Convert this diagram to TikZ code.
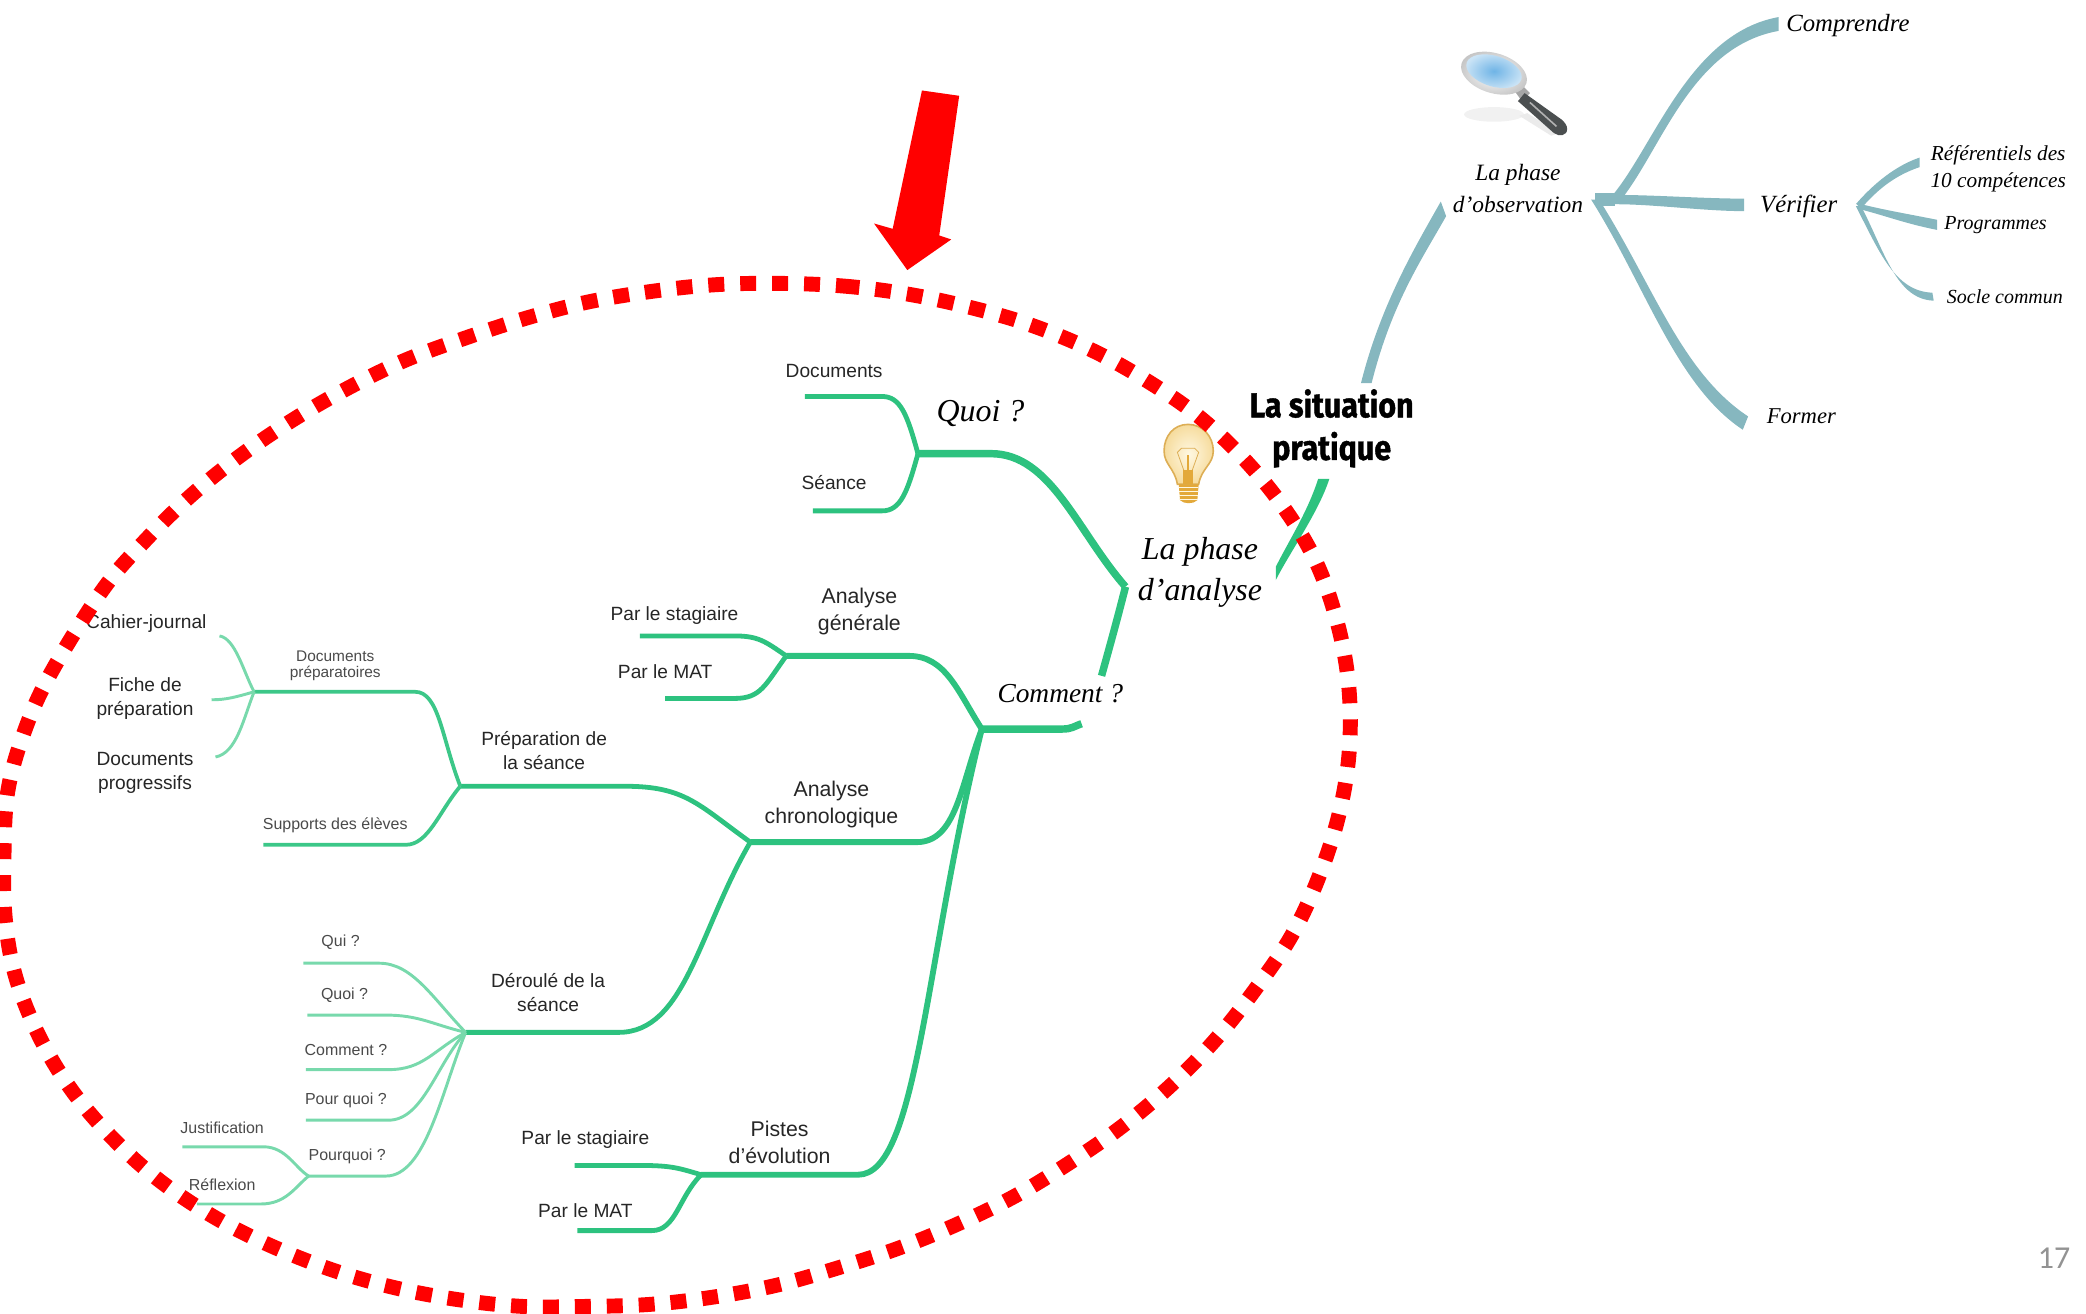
\documentclass[tikz,border=0pt]{standalone}
\usepackage{fontspec}
\setmainfont{Liberation Sans}
\newfontfamily\cursive{Liberation Serif}
\newfontfamily\handbold[FakeStretch=0.88,FakeBold=1.2]{Fira Sans}
\newfontfamily\pagenum{Carlito}
\usetikzlibrary{calc}
\definecolor{teal1}{HTML}{86B7BF}
\definecolor{green1}{HTML}{2DC27F}
\definecolor{green2}{HTML}{78D9AC}
\definecolor{redd}{HTML}{FF0000}
\definecolor{txt}{HTML}{262626}
\definecolor{txtg}{HTML}{4A4A4A}
\definecolor{bulbin}{HTML}{FFF8E2}
\definecolor{bulbout}{HTML}{F6DC9E}
\definecolor{bulbrim}{HTML}{DDAE55}
\definecolor{bulbgold}{HTML}{E3A93A}
\definecolor{lensin}{HTML}{6FB4E6}
\definecolor{lensout}{HTML}{CBE4F6}
\definecolor{handle}{HTML}{4B4F50}
\newcommand{\taperb}[7]{\fill[#1] ($(#2)+(#6)$) .. controls ($(#2)+(#3)+(#6)$) and ($(#5)+(#4)+(#7)$) .. ($(#5)+(#7)$) -- ($(#5)-(#7)$) .. controls ($(#5)+(#4)-(#7)$) and ($(#2)+(#3)-(#6)$) .. ($(#2)-(#6)$) -- cycle;}
\tikzset{
  mainb/.style={draw=green1,line width=2.8pt,line join=round},
  subb/.style={draw=green1,line width=1.8pt,line join=round},
  thinb/.style={draw=green2,line width=1.1pt,line join=round},
  thinm/.style={draw=green1!80!green2,line width=1.4pt,line join=round},
  lab/.style={font=\fontsize{7.2}{9}\selectfont,text=txt,align=center,inner sep=0pt,yshift=-0.4pt},
  labbig/.style={font=\fontsize{8}{10}\selectfont,text=txt,align=center,inner sep=0pt,yshift=-0.4pt},
  labgray/.style={font=\fontsize{6}{6}\selectfont,text=txtg,align=center,inner sep=0pt,yshift=-0.2pt},
  curA/.style={font=\cursive\itshape\fontsize{9.3}{10.5}\selectfont,text=black,align=center,inner sep=0pt},
  curB/.style={font=\cursive\itshape\fontsize{8.8}{12}\selectfont,text=black,align=center,inner sep=0pt},
  curC/.style={font=\cursive\itshape\fontsize{7.5}{10}\selectfont,text=black,align=center,inner sep=0pt},
  curD/.style={font=\cursive\itshape\fontsize{12}{15.5}\selectfont,text=black,align=center,inner sep=0pt},
  curE/.style={font=\cursive\itshape\fontsize{10.3}{12}\selectfont,text=black,align=center,inner sep=0pt},
}
\begin{document}
\begin{tikzpicture}[x=0.5pt,y=-0.5pt]
\useasboundingbox (0,0) rectangle (1568,987);
% ---------- coordinates
\coordinate (rootT) at (1027,288);
\coordinate (obsL) at (1085,157);
\coordinate (obsF) at (1199,150);
\coordinate (obsG) at (1214,150);
\coordinate (compE) at (1337,18);
\coordinate (verE) at (1311,154);
\coordinate (forE) at (1312,318);
\coordinate (verF) at (1397,155);
\coordinate (refE) at (1443,122);
\coordinate (proE) at (1456,169);
\coordinate (socE) at (1453,223);
\coordinate (rootB) at (995,360);
\coordinate (anaR) at (959,431);
\coordinate (anaF) at (846,441);
\coordinate (quoiF) at (690,341);
\coordinate (docE) at (605,298);
\coordinate (seaE) at (611,384);
\coordinate (comT) at (828,508);
\coordinate (comF) at (738,548);
\coordinate (comE) at (813,544);
\coordinate (genF) at (591,493);
\coordinate (gen1) at (481,478);
\coordinate (gen2) at (500,525);
\coordinate (chrF) at (564,633);
\coordinate (pisF) at (527,883);
\coordinate (pis1) at (432,876);
\coordinate (pis2) at (434,925);
\coordinate (prepF) at (346,591);
\coordinate (derF) at (350,776);
\coordinate (dprepF) at (191,520);
\coordinate (supE) at (198,635);
\coordinate (cahE) at (165,478);
\coordinate (ficE) at (159,526);
\coordinate (dpgE) at (162,569);
\coordinate (quiE) at (228,724);
\coordinate (quoE) at (231,763);
\coordinate (cmtE) at (230,804);
\coordinate (pquE) at (230,842);
\coordinate (pouF) at (232,884);
\coordinate (jusE) at (137,862);
\coordinate (refxE) at (148,905);
% ---------- teal branches
\taperb{teal1}{rootT}{15,-60}{-18,32}{obsL}{4,0}{2,5.5}
\fill[teal1] ($(obsF)+(0,-5)$) rectangle ($(obsG)+(0,5)$);
\taperb{teal1}{obsG}{32,-38}{-67,12}{compE}{2.5,2.5}{0,5.2}
\taperb{teal1}{obsG}{30,0}{-30,0}{verE}{0,3.5}{0,4.7}
\taperb{teal1}{obsF}{41,65}{-50,-33}{forE}{3,0}{2,-5}
\taperb{teal1}{verF}{13,-15}{-18,6}{refE}{1.8,1.8}{0,3.6}
\taperb{teal1}{verF}{20,5}{-25,-5}{proE}{0,2}{0,3.8}
\taperb{teal1}{verF}{18,35}{-28,-1}{socE}{2,0}{0.5,3}
% ---------- green branches, right part
\taperb{green1}{rootB}{-8,25}{10,-20}{anaR}{4.2,0}{0,5}
\draw[mainb] (quoiF) -- ++(55,0) .. controls +(45,0) and (810,400) .. (anaF);
\draw[subb] (quoiF) .. controls (682,312) and (677,298) .. (663,298) -- (docE);
\draw[subb] (quoiF) .. controls (682,370) and (677,384) .. (663,384) -- (seaE);
\draw[mainb] (anaF) .. controls (840,465) and (833,490) .. (comT);
\draw[mainb] (comF) -- ++(60,0) .. controls +(8,0) and +(-6,2) .. (comE);
\draw[subb,line width=2.2pt] (genF) -- ++(92,0) .. controls +(28,0) and (720,520) .. (comF);
\draw[subb] (genF) .. controls (575,482) and (570,478) .. (552,478) -- (gen1);
\draw[subb] (genF) .. controls (575,515) and (572,525) .. (552,525) -- (gen2);
\draw[subb,line width=2.2pt] (chrF) -- ++(125,0) .. controls +(30,0) and (722,590) .. (comF);
\draw[subb,line width=2.2pt] (pisF) -- ++(118,0) .. controls +(45,0) and (695,720) .. (comF);
\draw[subb] (prepF) -- ++(124,0) .. controls +(45,0) and (525,605) .. (chrF);
\draw[subb] (derF) -- ++(115,0) .. controls +(50,0) and (525,700) .. (chrF);
\draw[subb] (pisF) .. controls (510,878) and (505,876) .. (480,876) -- (pis1);
\draw[subb] (pisF) .. controls (510,900) and (508,925) .. (490,925) -- (pis2);
% ---------- thin branches
\draw[thinm] (prepF) .. controls (332,555) and (330,520) .. (312,520) -- (dprepF);
\draw[thinm] (prepF) .. controls (330,610) and (322,635) .. (305,635) -- (supE);
\draw[thinb] (dprepF) .. controls (183,505) and (177,480) .. (cahE);
\draw[thinb] (dprepF) .. controls (177,524) and (170,526) .. (ficE);
\draw[thinb] (dprepF) .. controls (183,540) and (178,566) .. (dpgE);
\draw[thinb] (derF) .. controls (325,750) and (310,724) .. (285,724) -- (quiE);
\draw[thinb] (derF) .. controls (325,770) and (315,763) .. (290,763) -- (quoE);
\draw[thinb] (derF) .. controls (325,790) and (318,804) .. (292,804) -- (cmtE);
\draw[thinb] (derF) .. controls (328,800) and (318,842) .. (292,842) -- (pquE);
\draw[thinb] (derF) .. controls (332,820) and (320,884) .. (290,884) -- (pouF);
\draw[thinb] (pouF) .. controls (222,878) and (215,862) .. (198,862) -- (jusE);
\draw[thinb] (pouF) .. controls (222,892) and (215,905) .. (196,905) -- (refxE);
% ---------- labels
\node[curA] (tComp) at (1389,19) {Comprendre};
\node[curB] (tObs) at (1141,142) {La phase\\d’observation};
\node[curA] (tVer) at (1352,155) {Vérifier};
\node[curC,font=\cursive\itshape\fontsize{8}{10}\selectfont] (tRef) at (1502,127) {Référentiels des\\10 compétences};
\node[curC] (tPro) at (1500,169) {Programmes};
\node[curC] (tSoc) at (1507,223) {Socle commun};
\node[curC,font=\cursive\itshape\fontsize{8.5}{10}\selectfont] (tFor) at (1354,313) {Former};
\node[font=\handbold\bfseries\fontsize{13}{16}\selectfont,align=center,inner sep=0pt] (tSit) at (1001,322) {La situation\\pratique};
\node[curD] (tAna) at (902,430) {La phase\\d’analyse};
\node[curD] (tQuoi) at (737,311) {Quoi ?};
\node[curE] (tCom) at (797,521) {Comment ?};
\node[lab] (tDoc) at (627,278) {Documents};
\node[lab] (tSea) at (627,362) {Séance};
\node[labbig] (tGen) at (646,459) {Analyse\\générale};
\node[lab] (tSt1) at (507,462) {Par le stagiaire};
\node[lab] (tMa1) at (500,504) {Par le MAT};
\node[lab] (tPre) at (409,563) {Préparation de\\la séance};
\node[labbig] (tChr) at (625,604) {Analyse\\chronologique};
\node[lab] (tCah) at (110,468) {Cahier-journal};
\node[lab] (tFic) at (109,524) {Fiche de\\préparation};
\node[lab] (tPrg) at (109,580) {Documents\\progressifs};
\node[labgray,font=\fontsize{5.8}{6}\selectfont] (tDpr) at (252,500) {Documents\\préparatoires};
\node[labgray] (tSup) at (252,620) {Supports des élèves};
\node[labgray] (tQui) at (256,708) {Qui ?};
\node[labgray] (tQuo) at (259,748) {Quoi ?};
\node[labgray] (tCmt) at (260,789) {Comment ?};
\node[labgray] (tPqu) at (260,827) {Pour quoi ?};
\node[labgray] (tPou) at (261,869) {Pourquoi ?};
\node[labgray] (tJus) at (167,847) {Justification};
\node[labgray] (tRfx) at (167,890) {Réflexion};
\node[lab] (tDer) at (412,745) {Déroulé de la\\séance};
\node[lab] (tSt2) at (440,856) {Par le stagiaire};
\node[lab] (tMa2) at (440,909) {Par le MAT};
\node[labbig] (tPis) at (586,858) {Pistes\\d’évolution};
\node[font=\pagenum\fontsize{12}{12}\selectfont,text=gray!85,inner sep=0pt] (tNum) at (1544,946) {17};
% ---------- magnifying glass
\fill[gray!11] (1123,86) ellipse [x radius=22.5,y radius=5.5];
\fill[gray!16] (1142,87) -- (1148,85) -- (1172,100) -- (1166,102) -- cycle;
\fill[gray!70] (1136,65) -- (1141,61) -- (1150,70) -- (1144,76) -- cycle;
\fill[handle] (1146,70) -- (1141,76) -- (1168,100) .. controls (1172,103) and (1178,102) .. (1178,97) .. controls (1178,94) and (1176,92) .. (1174,90) -- cycle;
\draw[gray!60,line width=.6pt] (1150,77) -- (1170,95);
\shade[inner color=white,outer color=gray!45,rotate around={-17:(1123,55)}] (1123,55) ellipse [x radius=25.5,y radius=15];
\shade[inner color=lensin,outer color=lensout,rotate around={-17:(1123,53.5)}] (1123,53.5) ellipse [x radius=21.5,y radius=11.5];
% ---------- light bulb
\shade[inner color=bulbin,outer color=bulbout,draw=bulbrim,line width=.6pt] (893,319) .. controls (904,319) and (912,328) .. (912,339) .. controls (912,349) and (903,352) .. (901,364) -- (885,364) .. controls (883,352) and (875,349) .. (875,339) .. controls (875,328) and (882,319) .. (893,319) -- cycle;
\draw[bulbrim,line width=.3pt] (890,354) -- (885,340) -- (888,337) -- (898,337) -- (901,340) -- (896,354);
\fill[bulbgold] (892,342) rectangle (894,353);
\fill[bulbgold] (889,353) rectangle (897,364);
\fill[bulbgold] (886,364) -- (901,364) -- (900,376) .. controls (897,379) and (890,379) .. (887,376) -- cycle;
\foreach \yy in {366.5,369.5,372.5,375.5}{\draw[bulbin,line width=.45pt] (886,\yy) -- (900.5,\yy);}
% ---------- red dashed loop and arrow
\draw[redd,line width=5.6pt,dash pattern=on 6pt off 6pt] plot[smooth cycle,tension=0.6] coordinates {(586,213) (634,215) (682,221) (729,231) (774,244) (819.5,262.6) (861,285.5) (901,313) (936,346) (966,383) (990,424) (1006,471) (1014,518) (1014,567) (1006,614) (991,660) (971,703) (944,743) (914,781) (881,815) (843,847) (804,874) (763,899) (720,920) (676,938) (630,953) (584,966) (536,975) (488,980.5) (440,982) (393,982) (345,977) (297,968) (251,955) (205,937) (163,916) (122,889) (87,858) (55,821) (30,780) (12,735) (4,691) (3,643) (6,594) (19,548) (39,504.5) (77,443.6) (108,407.5) (143,373) (180,343) (219.5,316) (261,292) (304,271) (350,254) (396,239) (442,227) (490,219) (538,214)};
\fill[redd] (693,68) -- (721,72) -- (706,177) -- (715,180) -- (682,203) -- (657,168) -- (671,172) -- cycle;
\end{tikzpicture}
\end{document}
